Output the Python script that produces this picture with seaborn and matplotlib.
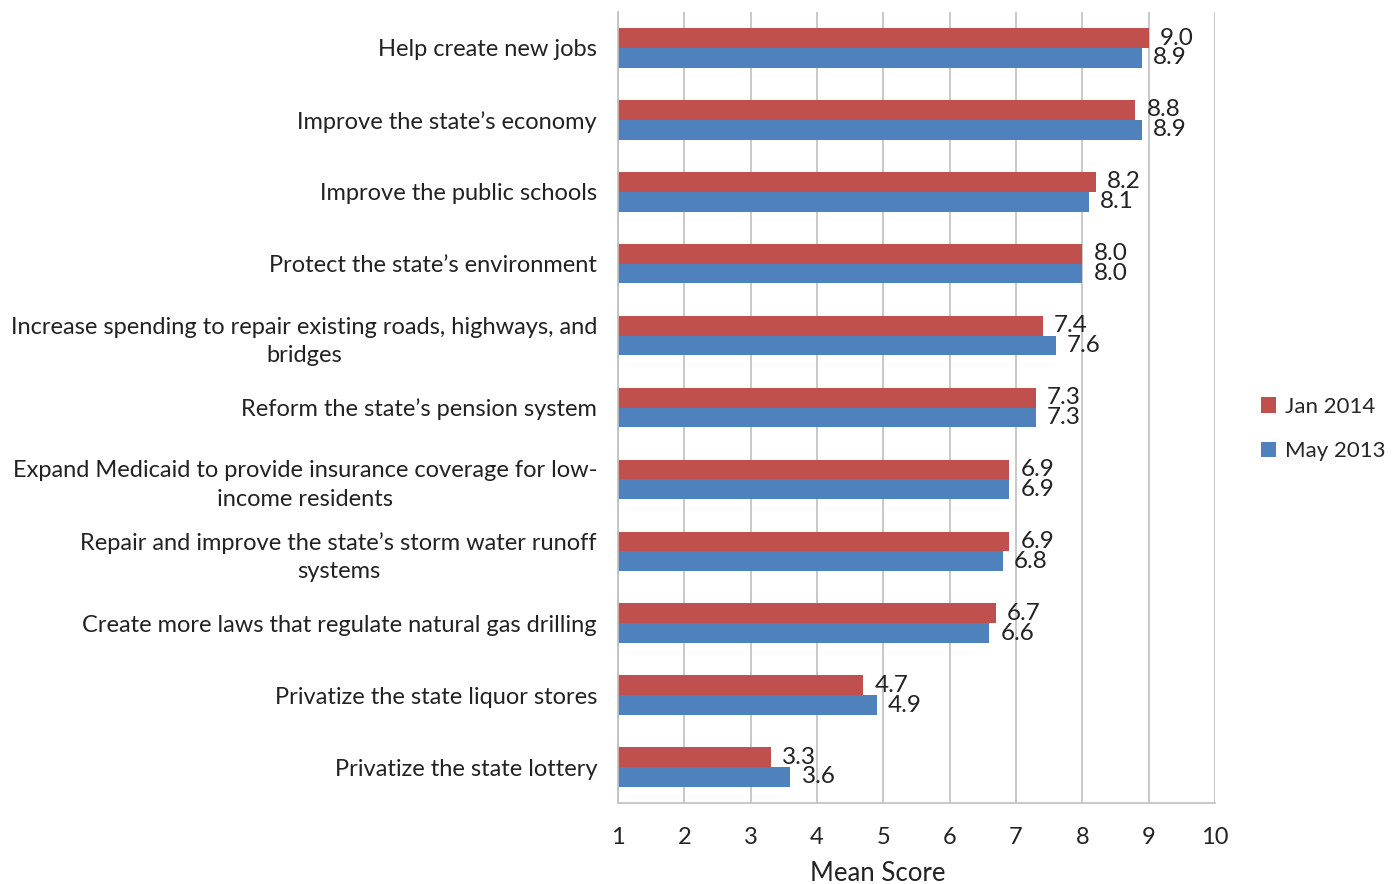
import pandas as pd
import numpy as np
import matplotlib.pyplot as plt
import seaborn as sns

# data
categories = [
    "Help create new jobs",
    "Improve the state\u2019s economy",
    "Improve the public schools",
    "Protect the state\u2019s environment",
    "Increase spending to repair existing roads, highways, and\nbridges",
    "Reform the state\u2019s pension system",
    "Expand Medicaid to provide insurance coverage for low-\nincome residents",
    "Repair and improve the state\u2019s storm water runoff\nsystems",
    "Create more laws that regulate natural gas drilling",
    "Privatize the state liquor stores",
    "Privatize the state lottery",
]
jan_2014 = [9.0, 8.8, 8.2, 8.0, 7.4, 7.3, 6.9, 6.9, 6.7, 4.7, 3.3]
may_2013 = [8.9, 8.9, 8.1, 8.0, 7.6, 7.3, 6.9, 6.8, 6.6, 4.9, 3.6]
series = ["Jan 2014", "May 2013"]
colors = ["#C0504D", "#4F81BD"]

df = pd.DataFrame({
    "category": categories * 2,
    "score": jan_2014 + may_2013,
    "series": [series[0]] * len(categories) + [series[1]] * len(categories),
})

sns.set_style("white")
plt.rcParams["font.family"] = ["Lato", "DejaVu Sans"]

fig = plt.figure(figsize=(13.99, 8.84), dpi=100)
ax = fig.add_axes([0.4417, 0.0916, 0.4268, 0.8948])

sns.barplot(data=df, x="score", y="category", hue="series", hue_order=series,
            palette=colors, orient="h", width=0.55, saturation=1, linewidth=0,
            ax=ax, legend=True)

# value labels
for cont in ax.containers:
    ax.bar_label(cont, fmt="%.1f", padding=8, fontsize=17.5, color="#222222")

ax.set_xlim(1, 10)
ax.set_xticks(range(1, 11))
ax.set_ylim(len(categories) - 0.5, -0.5)
ax.xaxis.grid(True, color="#BFBFBF", linewidth=1.2)
ax.set_axisbelow(True)
for s in ["top", "right"]:
    ax.spines[s].set_visible(False)
for s in ["left", "bottom"]:
    ax.spines[s].set_color("#BFBFBF")
    ax.spines[s].set_linewidth(1.2)

ax.tick_params(axis="x", length=0, pad=17, labelsize=17, labelcolor="#222222")
ax.tick_params(axis="y", length=0, pad=15, labelsize=17, labelcolor="#222222")
for lab in ax.get_yticklabels():
    lab.set_multialignment("center")
    lab.set_linespacing(1.45)

ax.set_xlabel("Mean Score", fontsize=18.5, color="#222222")
ax.xaxis.set_label_coords(0.4355, -0.073)
ax.set_ylabel("")

handles, labels = ax.get_legend_handles_labels()
ax.legend(handles, labels, loc="center left", bbox_to_anchor=(1.043, 0.473),
          frameon=False, fontsize=16, handlelength=0.7, handleheight=0.7,
          handletextpad=0.4, labelspacing=1.1)

plt.savefig("out.png", dpi=100)
